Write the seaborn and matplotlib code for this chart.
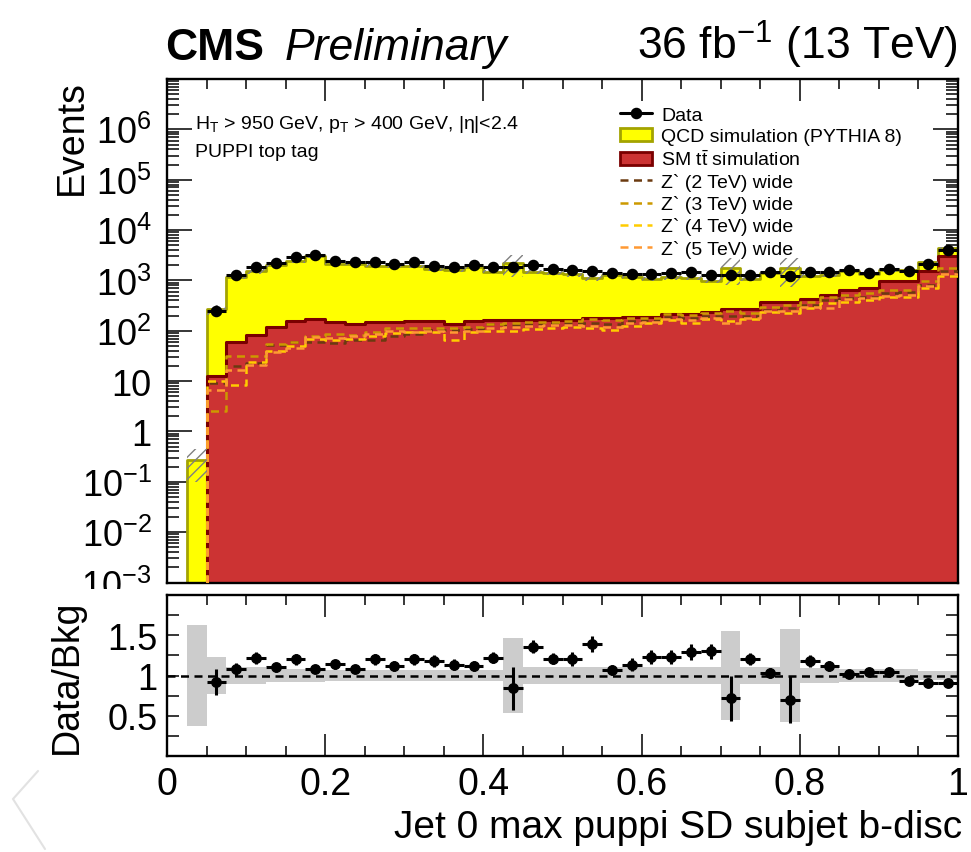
import numpy as np
import pandas as pd
import matplotlib
matplotlib.use("Agg")
import matplotlib.pyplot as plt
import seaborn as sns
from matplotlib.lines import Line2D
from matplotlib.patches import Patch, Rectangle
from matplotlib.ticker import (FixedLocator, MultipleLocator, FuncFormatter,
                               LogLocator, NullFormatter)

# ---------------- binning: 40 bins of 0.025 in the subjet b-discriminant
bin_edges = np.linspace(0.0, 1.0, 41)

# ---------------- event counts per bin
data_counts = [0, 0, 245, 1260, 1840, 2210, 2900, 3230, 2400, 2300,
               2350, 2150, 2300, 1950, 1820, 2020, 1820, 1820, 2000, 1700,
               1590, 1520, 1380, 1335, 1335, 1415, 1440, 1275, 1285, 1285,
               1440, 1235, 1440, 1440, 1600, 1380, 1680, 1520, 2110, 4080]

qcd_counts = [0, 0.27, 254, 1106, 1426, 1892, 2260, 2819, 1957, 1995,
              1810, 1772, 1760, 1498, 1467, 1649, 1330, 2002, 1306, 1240,
              1155, 916, 1112, 990, 899, 937, 903, 746, 1515, 796,
              1028, 1394, 794, 771, 924, 617, 660, 674, 809, 1484]

ttbar_counts = [0, 0, 12.6, 61, 82, 117, 157, 172, 148, 135,
                148, 148, 157, 155, 137, 155, 162, 165, 165, 165,
                165, 178, 178, 186, 186, 213, 213, 235, 270, 270,
                370, 370, 426, 515, 645, 710, 955, 960, 1510, 3000]

zp2_counts = [0, 0, 9, 20, 23, 52, 61, 61, 56, 66,
              66, 80, 85, 104, 104, 110, 135, 130, 135, 140,
              140, 141, 135, 158, 164, 186, 178, 193, 193, 193,
              255, 280, 330, 405, 450, 470, 560, 600, 820, 1510]
zp3_counts = [0, 0, 2.5, 31, 32, 54, 61, 77, 85, 83,
              96, 112, 115, 112, 115, 120, 135, 141, 150, 150,
              155, 170, 164, 178, 178, 213, 207, 222, 245, 222,
              300, 330, 380, 470, 520, 560, 645, 645, 955, 1760]
zp4_counts = [0, 0, 10, 8.5, 24, 40, 50, 70, 66, 70,
              80, 92, 95, 96, 66, 95, 100, 100, 110, 115,
              120, 112, 103, 127, 141, 164, 141, 172, 158, 170,
              235, 222, 280, 355, 380, 405, 460, 470, 710, 1200]
zp5_counts = [0, 0, 6.8, 16.6, 21, 37, 46, 75, 73, 78,
              85, 100, 96, 100, 95, 100, 115, 120, 125, 128,
              130, 127, 120, 140, 150, 175, 160, 180, 141, 180,
              250, 250, 300, 280, 420, 440, 500, 520, 780, 1350]

# relative MC statistical uncertainty of the background sum
mc_rel_unc = [0, 0.63, 0.23, 0.10, 0.10, 0.08, 0.08, 0.08, 0.07, 0.07,
              0.07, 0.07, 0.07, 0.07, 0.07, 0.07, 0.07, 0.46, 0.10, 0.10,
              0.10, 0.10, 0.10, 0.10, 0.10, 0.10, 0.10, 0.10, 0.55, 0.10,
              0.10, 0.58, 0.09, 0.09, 0.075, 0.075, 0.075, 0.075, 0.05, 0.05]

# uncertainty on the data/background ratio
ratio_err = [0, 0, 0.16, 0.08, 0.076, 0.057, 0.065, 0.05, 0.055, 0.05,
             0.07, 0.064, 0.068, 0.074, 0.07, 0.064, 0.07, 0.27, 0.078, 0.07,
             0.082, 0.096, 0.06, 0.082, 0.088, 0.088, 0.096, 0.096, 0.28, 0.074,
             0.06, 0.29, 0.075, 0.06, 0.04, 0.045, 0.045, 0.037, 0.037, 0.037]

signal_labels = ["Z` (2 TeV) wide", "Z` (3 TeV) wide",
                 "Z` (4 TeV) wide", "Z` (5 TeV) wide"]
x_ticks = [0, 0.2, 0.4, 0.6, 0.8, 1.0]
x_tick_labels = ["0", "0.2", "0.4", "0.6", "0.8", "1"]
ratio_ticks = [0.5, 1.0, 1.5]
ratio_tick_labels = ["0.5", "1", "1.5"]

# ---------------- style
QCD_FILL, QCD_EDGE = "#ffff00", "#a3a300"
TT_FILL, TT_EDGE = "#cc3333", "#7a0000"
SIG_COLORS = ["#6b3a10", "#cc9900", "#ffcc00", "#ff9933"]
HATCH_COLOR = "#808080"

sns.set_style("ticks")
plt.rcParams["font.family"] = ["Liberation Sans", "DejaVu Sans"]
plt.rcParams["mathtext.fontset"] = "custom"
plt.rcParams["mathtext.rm"] = "Liberation Sans"
plt.rcParams["mathtext.it"] = "Liberation Sans:italic"
plt.rcParams["mathtext.bf"] = "Liberation Sans:bold"
plt.rcParams["hatch.linewidth"] = 1.0
plt.rcParams["hatch.color"] = HATCH_COLOR
for key in ["text.color", "axes.labelcolor", "xtick.color", "ytick.color",
            "axes.edgecolor"]:
    plt.rcParams[key] = "black"

data = np.array(data_counts, float)
qcd = np.array(qcd_counts, float)
tt = np.array(ttbar_counts, float)
bkg = qcd + tt
unc = np.array(mc_rel_unc, float)
rerr = np.array(ratio_err, float)
centers = 0.5 * (bin_edges[:-1] + bin_edges[1:])
width = np.diff(bin_edges)
bins_list = list(bin_edges)

hist_df = pd.DataFrame({
    "x": centers, "bkg": bkg, "tt": tt,
    "zp2": np.array(zp2_counts, float), "zp3": np.array(zp3_counts, float),
    "zp4": np.array(zp4_counts, float), "zp5": np.array(zp5_counts, float),
})

W, H = 971, 853
fig = plt.figure(figsize=(W / 100, H / 100), dpi=100)


def px_rect(left, top, right, bottom):
    return [left / W, 1 - bottom / H, (right - left) / W, (bottom - top) / H]


ax = fig.add_axes(px_rect(167, 80, 958, 583.5), zorder=0)
axr = fig.add_axes(px_rect(167, 596, 958, 757), zorder=2)

# ---------------- stacked backgrounds
sns.histplot(data=hist_df, x="x", weights="bkg", bins=bins_list, element="step",
             fill=True, color=QCD_FILL, edgecolor=QCD_EDGE, linewidth=2.0,
             alpha=1, ax=ax, zorder=1)
sns.histplot(data=hist_df, x="x", weights="tt", bins=bins_list, element="step",
             fill=True, color=TT_FILL, edgecolor=TT_EDGE, linewidth=2.2,
             alpha=1, ax=ax, zorder=2)

# ---------------- signal templates
for col_name, col in zip(["zp2", "zp3", "zp4", "zp5"], SIG_COLORS):
    sns.histplot(data=hist_df, x="x", weights=col_name, bins=bins_list,
                 element="step", fill=False, color=col, linewidth=1.8,
                 linestyle=(0, (3.2, 2.2)), ax=ax, zorder=3)

# ---------------- MC uncertainty hatch
has_mc = bkg > 0
ax.bar(centers[has_mc], 2 * unc[has_mc] * bkg[has_mc],
       bottom=bkg[has_mc] * (1 - unc[has_mc]), width=width[has_mc],
       fill=False, hatch="///", edgecolor=HATCH_COLOR, linewidth=0, zorder=4)

# ---------------- data
has_data = data > 0
ax.errorbar(centers[has_data], data[has_data], xerr=width[has_data] / 2,
            fmt="o", color="k", ms=7.3, elinewidth=2.2, capsize=0, zorder=6)

ax.set_yscale("log")
ax.set_xlim(0, 1)
ax.set_ylim(1e-3, 1e7)


def log_label(v, pos):
    k = int(round(np.log10(v)))
    if k >= 7 or k < -3:
        return ""
    if k == 0:
        return "1"
    if k == 1:
        return "10"
    return r"$\mathrm{10^{%d}}$" % k


ax.yaxis.set_major_locator(FixedLocator([10.0 ** k for k in range(-3, 8)]))
ax.yaxis.set_minor_locator(LogLocator(base=10, subs=np.arange(2, 10), numticks=20))
ax.yaxis.set_major_formatter(FuncFormatter(log_label))
ax.yaxis.set_minor_formatter(NullFormatter())
ax.xaxis.set_major_locator(FixedLocator(x_ticks))
ax.xaxis.set_minor_locator(MultipleLocator(0.05))
ax.tick_params(axis="both", which="both", direction="in", top=True, right=True,
               width=1.1)
ax.tick_params(axis="x", which="major", length=15.5, labelbottom=False)
ax.tick_params(axis="x", which="minor", length=7.5)
ax.tick_params(axis="y", which="major", length=18, labelsize=26, pad=11)
ax.tick_params(axis="y", which="minor", length=8.5)
ax.set_xlabel("")
ax.set_ylabel("Events", fontsize=27, loc="top")
ax.yaxis.set_label_coords(-0.097, 1.0)
for sp in ax.spines.values():
    sp.set_linewidth(1.7)

ax.text(0.035, 0.9126,
        r"H$_\mathrm{T}$ > 950 GeV, p$_\mathrm{T}$ > 400 GeV, |η|<2.4",
        transform=ax.transAxes, fontsize=14, va="center", ha="left")
ax.text(0.035, 0.857, "PUPPI top tag", transform=ax.transAxes,
        fontsize=14, va="center", ha="left")

handles = [Line2D([], [], color="k", marker="o", ms=7.3, lw=2.2),
           Patch(facecolor=QCD_FILL, edgecolor=QCD_EDGE, lw=2),
           Patch(facecolor=TT_FILL, edgecolor=TT_EDGE, lw=2)]
handles += [Line2D([], [], color=c, lw=1.8, linestyle=(0, (3.2, 2.2)))
            for c in SIG_COLORS]
labels = ["Data", "QCD simulation (PYTHIA 8)",
          r"SM $\mathrm{t\bar{t}}$ simulation"] + signal_labels
ax.legend(handles, labels, loc="upper left", bbox_to_anchor=(0.573, 0.946),
          frameon=False, fontsize=14, borderaxespad=0, borderpad=0,
          handlelength=1.65, handletextpad=0.45, labelspacing=0.21)

# ---------------- ratio panel
ratio = np.where(bkg > 0, data / np.where(bkg > 0, bkg, 1), 0)
axr.bar(centers[has_mc], 2 * unc[has_mc], bottom=1 - unc[has_mc],
        width=width[has_mc], color="#cccccc", linewidth=0, zorder=1)
axr.axhline(1.0, color="k", lw=1.8, linestyle=(0, (3.2, 2.2)), zorder=2)
axr.errorbar(centers[has_data], ratio[has_data], xerr=width[has_data] / 2,
             yerr=rerr[has_data], fmt="o", color="k", ms=6.8, elinewidth=2.2,
             capsize=0, zorder=3)
axr.set_xlim(0, 1)
axr.set_ylim(0, 2)
axr.xaxis.set_major_locator(FixedLocator(x_ticks))
axr.xaxis.set_major_formatter(FuncFormatter(
    lambda v, p: x_tick_labels[x_ticks.index(round(v, 1))] if round(v, 1) in x_ticks else ""))
axr.xaxis.set_minor_locator(MultipleLocator(0.05))
axr.yaxis.set_major_locator(FixedLocator(ratio_ticks))
axr.yaxis.set_major_formatter(FuncFormatter(
    lambda v, p: ratio_tick_labels[ratio_ticks.index(v)] if v in ratio_ticks else ""))
axr.yaxis.set_minor_locator(MultipleLocator(0.25))
axr.tick_params(axis="both", which="both", direction="in", top=True, right=True,
                width=1.1)
axr.tick_params(axis="x", which="major", length=15.5, labelsize=27, pad=7)
axr.tick_params(axis="x", which="minor", length=7.5)
axr.tick_params(axis="y", which="both", length=8.5, labelsize=26, pad=7)
axr.set_xlabel("Jet 0 max puppi SD subjet b-disc", fontsize=28, loc="right")
axr.xaxis.set_label_coords(1.005, -0.33)
axr.set_ylabel("Data/Bkg", fontsize=27)
axr.yaxis.set_label_coords(-0.104, 0.5)
for sp in axr.spines.values():
    sp.set_linewidth(1.7)

# lower pad covers the full canvas width
fig.patches.append(Rectangle((0, 0), 166 / W, 1 - 590 / H, transform=fig.transFigure,
                             facecolor="white", edgecolor="none", zorder=1))

# ---------------- header
fig.text(165 / W, 1 - 60 / H, "CMS", fontsize=32, fontweight="bold",
         va="baseline", ha="left")
fig.text(285 / W, 1 - 60 / H, "Preliminary", fontsize=32, fontstyle="italic",
         va="baseline", ha="left")
fig.text(958 / W, 1 - 60 / H, r"36 fb$^{\mathrm{-1}}$ (13 TeV)", fontsize=32,
         va="baseline", ha="right")

# faint mark in the lower-left margin
fig.lines.append(Line2D([38 / W, 13 / W, 45 / W], [1 - 772 / H, 1 - 800 / H, 1 - 850 / H],
                        transform=fig.transFigure, color="#e2e2e2", lw=1.5))

fig.savefig("out.png", dpi=100)
